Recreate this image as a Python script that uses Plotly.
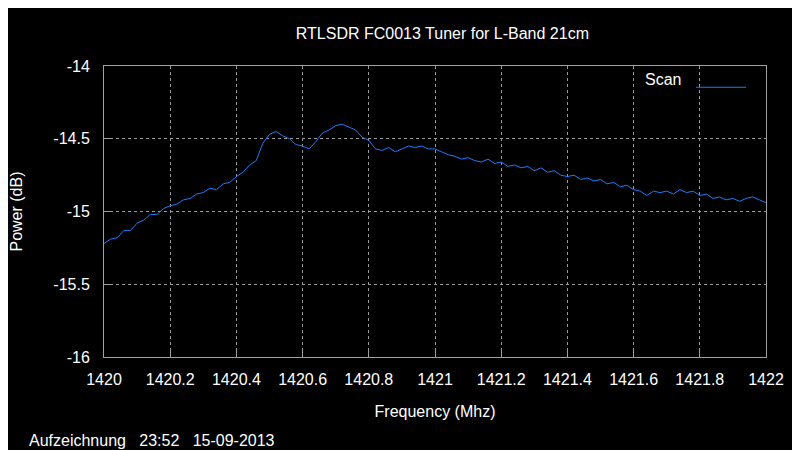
import plotly.graph_objects as go

freq = [round(1420 + 0.02*i, 2) for i in range(101)]
power = [-15.22,-15.19,-15.18,-15.13,-15.13,-15.08,-15.06,-15.02,-15.02,-14.98,
 -14.96,-14.95,-14.92,-14.91,-14.88,-14.87,-14.84,-14.85,-14.81,-14.80,
 -14.76,-14.73,-14.68,-14.65,-14.53,-14.47,-14.45,-14.48,-14.50,-14.54,
 -14.55,-14.57,-14.52,-14.46,-14.44,-14.41,-14.40,-14.42,-14.44,-14.49,
 -14.51,-14.57,-14.58,-14.56,-14.59,-14.57,-14.55,-14.56,-14.55,-14.57,
 -14.57,-14.59,-14.61,-14.62,-14.64,-14.63,-14.65,-14.66,-14.64,-14.67,
 -14.66,-14.69,-14.68,-14.70,-14.69,-14.72,-14.70,-14.73,-14.72,-14.75,
 -14.76,-14.75,-14.78,-14.77,-14.79,-14.78,-14.81,-14.80,-14.83,-14.82,
 -14.85,-14.86,-14.89,-14.86,-14.87,-14.86,-14.88,-14.85,-14.87,-14.86,
 -14.89,-14.88,-14.91,-14.90,-14.92,-14.91,-14.93,-14.91,-14.90,-14.92,-14.94]

xticks = [1420,1420.2,1420.4,1420.6,1420.8,1421,1421.2,1421.4,1421.6,1421.8,1422]
xlabels = ["1420","1420.2","1420.4","1420.6","1420.8","1421","1421.2","1421.4","1421.6","1421.8","1422"]
yticks = [-16,-15.5,-15,-14.5,-14]
ylabels = ["-16","-15.5","-15","-14.5","-14"]

F = "Liberation Sans"
fig = go.Figure(go.Scatter(x=freq, y=power, mode="lines", name="",
                           line=dict(color="#1a7cff", width=1)))
axis = dict(showgrid=True, gridcolor="#9a9a9a", griddash="dot", gridwidth=1,
            showline=True, linecolor="#a0a0a0", mirror=True, zeroline=False,
            ticks="inside", tickcolor="#a0a0a0", ticklen=6, automargin=False,
            tickfont=dict(color="white", size=16, family=F))
fig.update_layout(
    width=800, height=450, paper_bgcolor="black", plot_bgcolor="black",
    margin=dict(l=96, r=42, t=58, b=101),
    title=dict(text="RTLSDR FC0013 Tuner for L-Band 21cm", x=0.543, y=0.955,
               xanchor="center", font=dict(color="white", size=16, family=F)),
    xaxis=dict(axis, range=[1420,1422], tickvals=xticks, ticktext=xlabels, ticklabelstandoff=8,
               title=dict(text="Frequency (Mhz)", standoff=18, font=dict(color="white", size=16, family=F))),
    yaxis=dict(axis, range=[-16,-14], tickvals=yticks, ticktext=ylabels, ticklabelstandoff=10,
               title=dict(text="Power (dB)", standoff=32, font=dict(color="white", size=16, family=F))),
    showlegend=True,
    legend=dict(x=0.985, y=0.985, xanchor="right", yanchor="top", bgcolor="rgba(0,0,0,0)",
                font=dict(color="white", size=16, family=F), itemwidth=50),
    annotations=[
        dict(text="Scan", xref="paper", yref="paper", x=0.875, y=0.955, xanchor="right",
             yanchor="middle", showarrow=False, font=dict(color="white", size=16, family=F)),
        dict(text="Aufzeichnung   23:52   15-09-2013", xref="paper", yref="paper",
             x=-0.117, y=-0.25, xanchor="left", yanchor="top", showarrow=False,
             font=dict(color="white", size=16, family=F))]
)
fig.write_html("out.html")
